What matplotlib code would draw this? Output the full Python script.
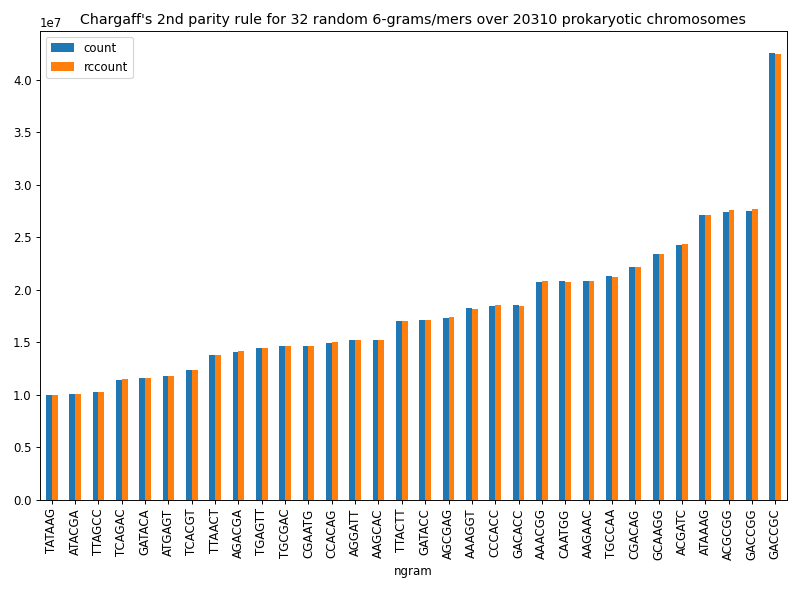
import matplotlib
matplotlib.use("Agg")
import matplotlib.pyplot as plt
import pandas as pd

ngrams = ["TATAAG", "ATACGA", "TTAGCC", "TCAGAC", "GATACA", "ATGAGT", "TCACGT", "TTAACT",
          "AGACGA", "TGAGTT", "TGCGAC", "CGAATG", "CCACAG", "AGGATT", "AAGCAC", "TTACTT",
          "GATACC", "AGCGAG", "AAAGGT", "CCCACC", "GACACC", "AAACGG", "CAATGG", "AAGAAC",
          "TGCCAA", "CGACAG", "GCAAGG", "ACGATC", "ATAAAG", "ACGCGG", "GACCGG", "GACCGC"]
count = [10.0, 10.1, 10.3, 11.4, 11.6, 11.8, 12.4, 13.8,
         14.1, 14.5, 14.7, 14.7, 14.9, 15.2, 15.2, 17.05,
         17.1, 17.3, 18.3, 18.5, 18.6, 20.7, 20.8, 20.8,
         21.3, 22.2, 23.4, 24.3, 27.1, 27.4, 27.5, 42.5]
rccount = [10.0, 10.1, 10.3, 11.5, 11.6, 11.8, 12.4, 13.8,
           14.2, 14.5, 14.7, 14.7, 15.0, 15.2, 15.2, 17.05,
           17.1, 17.4, 18.2, 18.6, 18.5, 20.8, 20.7, 20.8,
           21.2, 22.2, 23.4, 24.4, 27.1, 27.55, 27.65, 42.4]

df = pd.DataFrame({"count": [v * 1e6 for v in count],
                   "rccount": [v * 1e6 for v in rccount]}, index=pd.Index(ngrams, name="ngram"))

scale = 0.85
fig, ax = plt.subplots(figsize=(8 / scale, 5.89 / scale), dpi=100 * scale)
df.plot.bar(ax=ax)
ax.set_title("Chargaff's 2nd parity rule for 32 random 6-grams/mers over 20310 prokaryotic chromosomes")
fig.subplots_adjust(left=40 / 800, right=787 / 800, top=1 - 31 / 589, bottom=1 - 500 / 589)
fig.savefig("out.png", dpi=100 * scale)
